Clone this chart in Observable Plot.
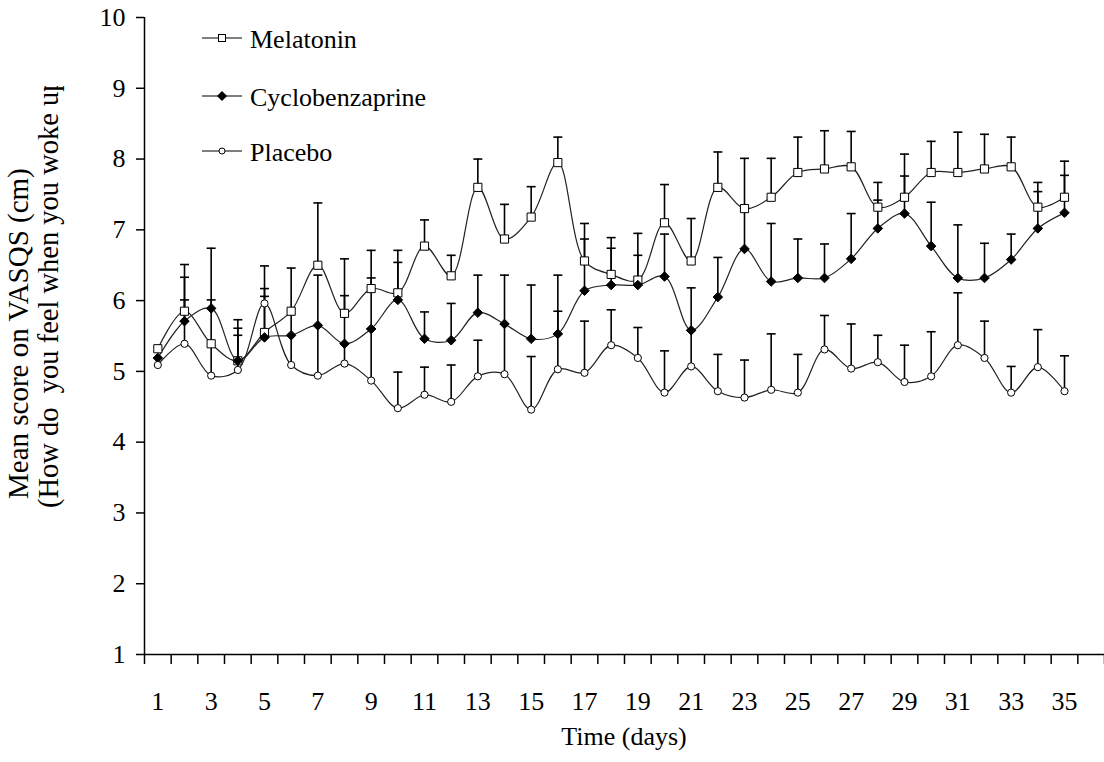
<!DOCTYPE html>
<html>
<head>
<meta charset="utf-8">
<script src="https://cdn.jsdelivr.net/npm/d3@7"></script>
<script src="https://cdn.jsdelivr.net/npm/@observablehq/plot@0.6"></script>
<style>
  html, body { margin: 0; padding: 0; background: white; }
  #chart { position: relative; width: 1104px; height: 762px; overflow: hidden; }
</style>
</head>
<body>
<div id="chart"></div>
<script>
const days = [1,2,3,4,5,6,7,8,9,10,11,12,13,14,15,16,17,18,19,20,21,22,23,24,25,26,27,28,29,30,31,32,33,34,35];
const seriesNames = ["Melatonin", "Cyclobenzaprine", "Placebo"];

const melatonin = [5.32,5.85,5.39,5.15,5.55,5.85,6.50,5.82,6.17,6.11,6.77,6.35,7.60,6.87,7.18,7.95,6.56,6.37,6.29,7.10,6.56,7.60,7.30,7.46,7.81,7.86,7.89,7.32,7.46,7.81,7.81,7.86,7.89,7.32,7.46];
const melatoninUpper = [null,6.51,null,5.73,6.17,null,7.38,6.59,6.71,6.71,7.14,6.64,8.00,7.36,7.61,8.31,7.09,6.89,6.95,7.64,7.16,8.10,8.01,8.01,8.31,8.40,8.39,7.67,8.07,8.25,8.38,8.35,8.31,7.67,7.97];

const cyclobenzaprine = [5.19,5.71,5.89,5.15,5.48,5.51,5.65,5.39,5.60,6.01,5.46,5.44,5.83,5.67,5.46,5.53,6.14,6.22,6.22,6.34,5.58,6.05,6.73,6.27,6.32,6.32,6.59,7.02,7.23,6.77,6.32,6.32,6.58,7.02,7.24];
const cyclobenzaprineUpper = [null,6.33,6.74,5.61,6.06,null,null,6.07,6.32,6.54,5.84,5.96,6.36,6.36,6.22,6.36,6.87,6.74,6.64,6.94,6.18,6.61,7.30,7.09,6.87,6.80,7.23,7.42,7.76,7.39,7.07,6.81,6.94,7.54,7.77];

const placebo = [5.09,5.39,4.94,5.02,5.96,5.09,4.94,5.11,4.87,4.48,4.67,4.57,4.93,4.96,4.46,5.03,4.98,5.37,5.19,4.70,5.07,4.72,4.63,4.74,4.70,5.31,5.04,5.13,4.85,4.93,5.37,5.19,4.70,5.06,4.72];
const placeboUpper = [null,6.01,6.01,5.51,6.49,6.46,6.36,5.39,5.60,4.99,5.06,5.09,5.44,5.67,5.21,5.85,5.71,5.87,5.62,5.29,5.58,5.24,5.16,5.53,5.24,5.79,5.67,5.51,5.37,5.56,6.11,5.71,5.07,5.59,5.22];

const yTicks = [1,2,3,4,5,6,7,8,9,10];
const xTickLabels = [1,3,5,7,9,11,13,15,17,19,21,23,25,27,29,31,33,35];
const xTitle = "Time (days)";
const yTitle1 = "Mean score on VASQS (cm)";
const yTitle2 = "(How do  you feel when you woke up";

const rows = (vals, ups) => days.map((d, i) => ({day: d, v: vals[i], cap: ups[i]}));
const mel = rows(melatonin, melatoninUpper);
const cyc = rows(cyclobenzaprine, cyclobenzaprineUpper);
const pla = rows(placebo, placeboUpper);
const allRows = [...mel, ...cyc, ...pla].filter(r => r.cap != null);

const capSymbol = { draw(ctx, size) { const w = 4.5; ctx.moveTo(-w, 0); ctx.lineTo(w, 0); } };
const FONT = "'Liberation Serif', 'Times New Roman', serif";
const boundaries = d3.range(0.5, 37, 1);

const chart = Plot.plot({
  width: 1104,
  height: 762,
  marginLeft: 144,
  marginRight: 0,
  marginTop: 17,
  marginBottom: 108,
  x: {domain: [0.5, 36.5]},
  y: {domain: [1, 10]},
  style: {fontFamily: FONT, fontSize: "26px", color: "black", background: "white", overflow: "hidden"},
  marks: [
    Plot.axisY({ticks: yTicks, tickSize: 8, tickPadding: 11, label: null, fontSize: 26, strokeWidth: 1.5}),
    Plot.axisX({ticks: boundaries, tickSize: 10, tickFormat: () => "", label: null, strokeWidth: 1.5}),
    Plot.axisX({ticks: xTickLabels, tickSize: 0, tickPadding: 37, label: null, fontSize: 26}),
    Plot.ruleX([0.5], {strokeWidth: 1.5}),
    Plot.ruleY([1], {strokeWidth: 1.5}),
    Plot.line(mel, {x: "day", y: "v", curve: "catmull-rom", stroke: "#222", strokeWidth: 1.2}),
    Plot.line(cyc, {x: "day", y: "v", curve: "catmull-rom", stroke: "#222", strokeWidth: 1.2}),
    Plot.line(pla, {x: "day", y: "v", curve: "catmull-rom", stroke: "#222", strokeWidth: 1.2}),
    Plot.ruleX(allRows, {x: "day", y1: "v", y2: "cap", stroke: "black", strokeWidth: 1.6}),
    Plot.dot(allRows, {x: "day", y: "cap", symbol: capSymbol, fill: "none", stroke: "black", strokeWidth: 1.6}),
    Plot.dot(mel, {x: "day", y: "v", symbol: "square", r: 4.6, fill: "white", stroke: "black", strokeWidth: 1}),
    Plot.dot(cyc, {x: "day", y: "v", symbol: "diamond2", r: 4.3, fill: "black", stroke: "black", strokeWidth: 1}),
    Plot.dot(pla, {x: "day", y: "v", r: 3.6, fill: "white", stroke: "black", strokeWidth: 1})
  ]
});

document.getElementById("chart").appendChild(chart);

const svg = d3.select(chart);
// axis titles
svg.append("text")
  .attr("x", 624).attr("y", 745)
  .attr("text-anchor", "middle")
  .attr("font-family", FONT).style("font-family", FONT).style("font-size", "26px").attr("fill", "black")
  .text(xTitle);
svg.append("text")
  .attr("transform", "translate(28,499) rotate(-90)")
  .attr("text-anchor", "start")
  .attr("font-family", FONT).style("font-family", FONT).style("font-size", "29px").attr("fill", "black")
  .text(yTitle1);
svg.append("clipPath").attr("id", "ytitle-clip")
  .append("rect").attr("x", 0).attr("y", 86).attr("width", 100).attr("height", 600);
svg.append("g")
  .attr("clip-path", "url(#ytitle-clip)")
  .append("text")
  .attr("transform", "translate(58,508) rotate(-90)")
  .attr("text-anchor", "start")
  .attr("font-family", FONT).style("font-family", FONT).style("font-size", "28.5px").attr("fill", "black")
  .text(yTitle2);

// legend
const legendY = [38, 96, 151];
const lg = svg.append("g");
seriesNames.forEach((name, i) => {
  const y = legendY[i];
  lg.append("line").attr("x1", 202).attr("x2", 242).attr("y1", y).attr("y2", y)
    .attr("stroke", "black").attr("stroke-width", 1.2);
  if (i === 0) {
    lg.append("rect").attr("x", 218.5).attr("y", y - 3.5).attr("width", 7).attr("height", 7)
      .attr("fill", "white").attr("stroke", "black");
  } else if (i === 1) {
    lg.append("path").attr("d", `M222,${y-5}L227,${y}L222,${y+5}L217,${y}Z`).attr("fill", "black");
  } else {
    lg.append("circle").attr("cx", 222).attr("cy", y).attr("r", 3).attr("fill", "white").attr("stroke", "black");
  }
  lg.append("text").attr("x", 250).attr("y", y + 10)
    .attr("text-anchor", "start")
    .attr("font-family", FONT).style("font-family", FONT).style("font-size", "26px").attr("fill", "black")
    .text(name);
});
</script>
</body>
</html>
